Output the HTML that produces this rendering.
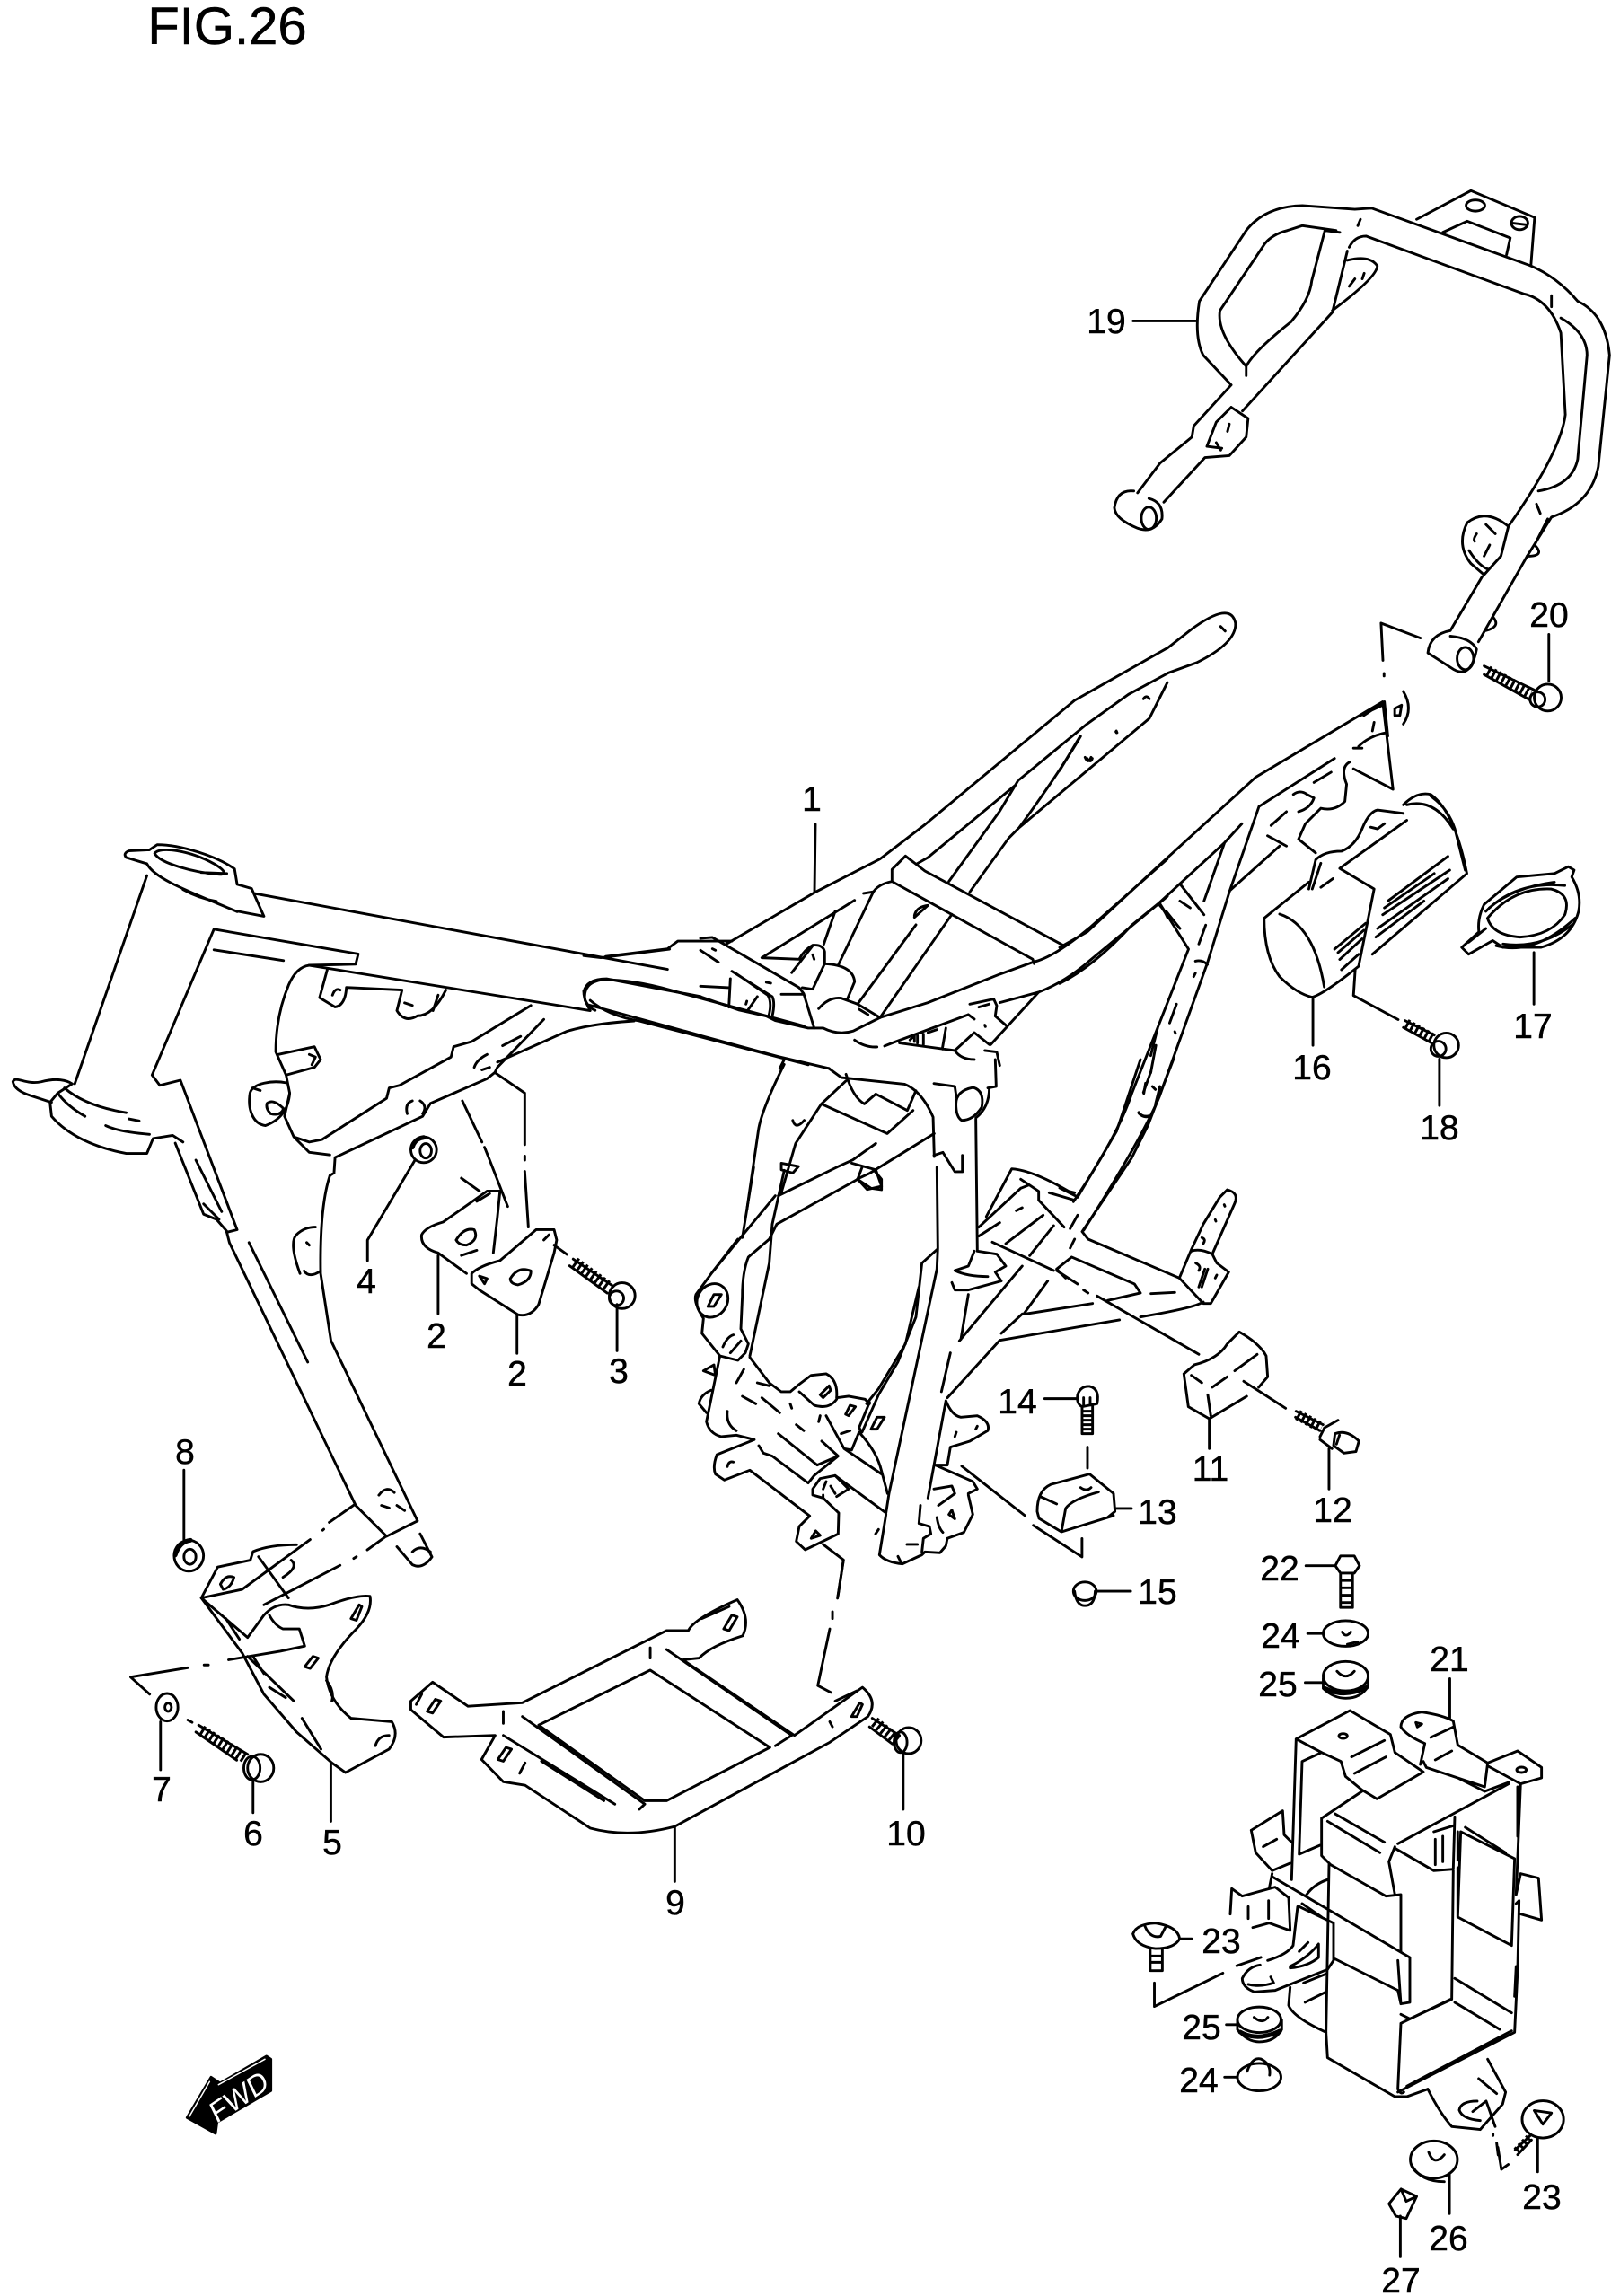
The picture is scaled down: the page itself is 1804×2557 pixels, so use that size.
<!DOCTYPE html>
<html><head><meta charset="utf-8"><style>
html,body{margin:0;padding:0;background:#fff}
svg{display:block}
path,ellipse,circle{vector-effect:non-scaling-stroke;fill:none;stroke:#000;stroke-width:2.9;stroke-linejoin:round;stroke-linecap:round}
.f{fill:#000}
.th{stroke-width:12;stroke-dasharray:3 3;stroke-linecap:butt}
.h{stroke-width:5}
text{font-family:"Liberation Sans",sans-serif;font-size:39px;fill:#000;text-anchor:middle;stroke:#000;stroke-width:.5}
</style></head><body>
<svg width="1804" height="2557" viewBox="0 0 1804 2557" xmlns="http://www.w3.org/2000/svg">
<rect width="1804" height="2557" fill="#fff"/>
<text x="253" y="49" style="font-size:58px">FIG.26</text>

<!-- Z1 front of frame -->
<g transform="translate(0,850) scale(.574)">
<path d="M290,168 L250,170 Q238,175 245,183 L285,195 M300,175 C310,160 370,170 415,195 C440,210 440,218 420,215 C380,212 310,195 300,175 M290,168 L305,158 C350,158 420,180 455,205 L460,235 L488,243 L512,297 L460,287 M285,195 C300,225 370,250 460,288 M355,245 Q385,262 420,268 M390,212 L440,214"/>
<path d="M285,218 L145,622 M25,618 C30,605 50,625 80,618 C110,610 130,615 140,622 L112,640 L97,658 L100,685 C130,720 180,745 245,757 L285,757 L297,728 L335,722 L355,735 M25,618 Q28,635 60,645 L100,658 M112,640 Q130,665 165,685 M125,630 Q165,665 245,678 M205,703 Q230,715 290,720 M250,690 L270,694"/>
<path d="M415,322 L695,370 L690,390 L600,392 M415,322 L295,605 L310,625 L350,615 L460,905 L440,910 M415,362 L550,383"/>
<path d="M495,253 L1175,378 L1295,400 M600,392 L1145,480 M1175,375 L1295,360 L1315,345 L1420,345 M1145,480 L1135,460 Q1130,425 1170,420 Q1230,420 1300,440 L1560,510 M1145,460 Q1180,490 1240,500 L1568,585"/>
<path d="M340,737 L395,875 L420,885 L440,908 M380,770 L430,870 M395,855 L425,885 M440,910 L445,930 L690,1440 L750,1500 M483,930 L597,1162 M640,800 Q620,860 622,990 L642,1120 L810,1470 L750,1500 M770,1520 L800,1555 Q820,1565 838,1540 L815,1495 M800,1530 Q815,1515 835,1530"/>
<path d="M735,1420 Q750,1400 765,1415 M740,1440 L755,1445 M770,1440 L785,1450"/>
<path d="M600,392 Q575,395 560,430 Q535,490 535,560 L555,605 L562,640 L552,685 L570,725 L600,735 L625,730 L750,650 L755,630 L775,625 L875,570 L880,550 L915,540 L1030,470 M648,795 L650,765 L820,685 L835,660 L945,612 L960,600 L965,590 L1055,497 M965,580 L1100,520 Q1150,505 1230,500 M640,800 L648,795 M570,725 L600,755 L640,760 M975,548 L1010,530 M790,680 Q785,660 800,655 M815,655 Q830,665 820,680 M920,590 Q925,575 945,565 M935,595 L950,590"/>
<path d="M635,400 L620,455 L650,473 Q670,470 672,435 L780,440 L770,480 Q785,505 810,490 Q840,490 865,440 M645,450 Q650,435 660,440 M785,465 L800,470 M850,450 L840,480"/>
<path d="M540,565 L610,550 L622,575 L610,590 L555,605 M600,565 L612,570 L605,585"/>
<path d="M485,640 C490,620 530,615 555,620 M562,640 C560,665 550,690 515,703 C490,700 480,670 485,640 M518,660 Q530,650 550,670 Q545,685 525,680 Q515,670 518,660 M490,630 L505,635"/>
<path d="M582,990 Q560,930 575,915 Q590,900 612,900 M622,985 Q600,1000 590,985 M595,930 L600,935"/>
<circle cx="822" cy="750" r="25"/><ellipse cx="826" cy="752" rx="11" ry="14"/><path class="h" d="M800,745 Q805,728 822,726"/>
<path d="M805,770 L713,925 L713,965"/>
<path d="M818,915 Q825,900 860,890 L945,830 L970,830 L965,880 L957,950 M818,915 Q815,940 850,950 L905,990 M885,925 Q900,900 920,905 Q930,925 905,935 Q890,935 885,925 M850,955 L850,1068 M895,955 L925,945 M925,850 L950,835"/>
<path d="M915,990 Q930,975 970,965 L1040,905 L1075,905 L1080,925 L1075,950 L1045,1050 Q1030,1075 1005,1070 L930,1022 L915,1010 Z M1003,1072 L1003,1145 M990,1000 Q1005,975 1030,985 Q1030,1005 1005,1012 Q990,1010 990,1000 M930,995 L945,1000 L940,1010 Z M1055,925 L1065,915"/>
<path class="th" d="M1115,968 L1180,1015"/>
<path d="M1112,962 L1190,1015 M1105,975 L1178,1028"/>
<circle cx="1207" cy="1033" r="25"/><circle cx="1196" cy="1038" r="14"/>
<path d="M1197,1050 V1140"/>
<path d="M897,655 L935,735 M940,745 L950,770 L985,860 M960,600 L1018,640 V740 M1018,762 V770 M1018,792 L1025,900 M895,805 L930,830 M1075,935 L1100,953"/>
</g>

<!-- Z2 remaining centre -->
<g transform="translate(650,650) scale(.6378,.7334)">
<path d="M1019,98 L1060,70 Q1130,25 1138,60 Q1140,90 1070,120 L1019,136 M1112,65 L1120,72"/>
<path d="M0,565 L30,568 L150,555 M0,620 Q5,600 40,600 L204,627 M10,640 L204,686 M428,736 L450,750 L560,760 Q590,770 610,810 L612,870 M0,618 Q0,640 20,648"/>
<path d="M350,730 Q310,800 305,830 L285,950 M458,755 L415,790 L370,850 L345,925 M415,790 L530,835 L575,800 M458,745 Q470,780 490,790 L510,775 L565,800 L580,770 M365,815 Q370,830 385,815 M345,880 L375,885 L365,895 L345,890 Z"/>
<path d="M442,886 L470,875 L510,850 M478,904 L500,895 L612,835 M468,880 L510,890 L520,915 L495,920 L478,904"/>
<path d="M650,790 Q650,770 680,765 Q700,770 695,795 Q680,815 660,815 Q650,810 650,790"/>
<path d="M660,1340 L770,1415 M785,1430 L870,1478 L870,1450"/>
<ellipse cx="875" cy="1530" rx="20" ry="14"/><path d="M857,1530 Q860,1552 875,1552 Q892,1552 893,1530 M895,1530 H955"/>
</g>

<!-- A upper centre -->
<g transform="translate(780,670) scale(.3333)">
<path d="M85,1145 L385,970 L600,860 L750,745 L1250,330 L1560,155"/>
<path d="M725,875 L760,855 L1050,615 M1065,595 L1290,410 L1430,310 L1560,240 M1270,450 Q1200,570 1065,755 L1500,390 L1540,310 L1560,270 M1065,755 L1030,790 L900,970 M1060,600 L1000,700 L830,935 M840,1045 L600,1390 M720,1080 L525,1345 M1480,325 Q1490,310 1500,325 M1285,520 Q1295,545 1305,520 M1388,435 L1390,438"/>
<path d="M640,935 L640,895 L685,850 L750,900 L1215,1150 M640,935 L1110,1195 L1115,1210 M640,935 Q590,945 575,975 L460,1215 M545,975 L575,970 M515,998 L205,1190 L330,1195 Q345,1165 375,1148 Q410,1145 415,1170 L415,1210 L375,1295 L340,1290 M450,1035 L412,1145 M375,1150 L305,1240 M415,1210 Q510,1215 515,1270 L490,1330 M395,1360 Q430,1320 470,1325 L525,1345 L600,1390 M530,1362 L560,1380 M715,1050 Q720,1020 760,1015 L715,1055 M375,1180 L380,1195"/>
<path d="M0,1125 L40,1122 L330,1290 L345,1310 L380,1425 M105,1235 L240,1320 Q250,1340 240,1385 M115,1240 L225,1315 Q240,1340 228,1385 M270,1312 L345,1312 M100,1260 L95,1355 M0,1285 L95,1290 M190,1320 L155,1370 M0,1165 L60,1205 M40,1160 L50,1165 M220,1272 L235,1275 M155,1335 L152,1345"/>
<path d="M0,1320 L130,1365 L220,1385 L250,1400 L360,1425 L410,1425 Q460,1450 510,1435 L600,1390 L760,1340 L1000,1245 L1110,1205 Q1180,1190 1300,1090 L1560,860 M1130,1305 Q1220,1270 1300,1200 L1530,1010 L1560,985 M1530,1010 Q1550,1030 1560,1055"/>
<path d="M1000,1340 L1130,1305 L970,1480 M900,1345 L980,1328 L990,1350 L985,1385 L1020,1415 M895,1380 L915,1395 M895,1380 L640,1475 L615,1485 M515,1465 Q550,1490 590,1488 M665,1475 L850,1500 L915,1440 L965,1480 M850,1500 Q870,1530 915,1530 M820,1425 L808,1495 M950,1500 L990,1505 L1000,1550 M930,1355 L965,1345 M950,1415 L952,1420 M700,1465 L715,1450 V1470 M725,1450 V1475 M745,1445 V1480 M760,1440 L790,1430"/>
<path d="M0,1450 L260,1520 L430,1560 M280,1530 L265,1560"/>
</g>

<!-- B rear rail, 16,17,18 -->
<g transform="translate(1180,770) scale(.3827)">
<path d="M0,745 L80,700 L285,510 L570,250 L940,30 L970,285 L855,225 M885,70 L945,30 L955,130 M875,70 L940,40 M0,850 Q100,800 210,680 L290,615 L480,440 L530,385 M290,615 L375,750 L210,1170 Q170,1290 50,1470 L0,1445 M50,1470 L40,1485 M350,560 L420,650 M480,440 L420,610 M580,335 L495,580 L430,790 L290,1180 Q240,1300 70,1568 M580,335 L800,195 M495,580 L640,450 M605,420 L660,450 M615,390 L660,350 M740,265 L790,235 M870,160 Q900,130 950,120 M915,90 L910,115 M855,165 L880,165"/>
<path d="M680,300 Q700,285 720,300 L740,310 Q730,340 695,350 M845,205 Q815,220 835,270 L830,320 Q800,350 760,340 L715,385 L695,430 L745,470 M425,680 L405,735 M395,785 Q415,780 430,795 M390,830 L395,820 M340,910 L320,965 M285,980 L265,1060 M280,1030 L265,1110 M250,1140 L245,1170 M230,1225 Q240,1240 260,1235 M335,990 L337,995 M350,610 L380,630 M310,640 L350,690 M80,195 Q90,210 95,195 M165,115 L167,120 M60,130 L0,230"/>
<path d="M1000,0 Q1030,50 1000,95 M975,50 L995,40 L990,70 L975,70 Z"/>
<path d="M595,660 L725,555 M595,660 Q595,770 640,830 Q690,880 735,890 Q770,880 870,800 L915,575 L815,515 L1010,375 M745,490 Q770,465 820,465 Q860,450 880,400 Q900,350 925,345 L1000,355 M725,575 L745,490 M735,575 L760,500 M760,570 L795,545 M640,648 Q740,680 770,860 M905,395 L925,400 L945,385"/>
<path d="M1000,330 Q1040,290 1080,300 Q1150,350 1185,530 L910,765 M1010,330 Q1090,310 1145,400 M1080,305 Q1130,340 1150,400 L1180,520"/>
<path d="M955,610 L1130,480 M940,650 L1135,520 M925,690 L1130,545 M945,630 L1090,530 M920,715 L1060,610 M800,750 L890,675 M815,780 L880,720 M820,810 L870,765 M810,760 L885,695"/>
<path d="M860,810 L855,885 L985,955 M737,890 V1030 M1105,1070 V1205"/>
<path class="th" d="M1008,968 L1085,1010"/>
<path d="M1005,958 L1090,1000 M1000,978 L1080,1022"/>
<circle cx="1125" cy="1030" r="36"/><circle cx="1102" cy="1040" r="22"/>
<path d="M1235,620 L1330,540 L1440,530 L1480,510 L1497,520 L1490,540 Q1520,590 1510,640 Q1490,720 1400,745 L1290,745 L1260,725 L1190,765 L1170,745 L1220,700 Q1215,660 1235,620"/>
<path d="M1245,660 Q1320,570 1430,575 Q1490,590 1470,650 Q1430,710 1340,715 Q1260,710 1245,660 M1240,640 Q1330,550 1470,565 M1270,740 Q1380,770 1500,660 M1240,690 L1190,730 M1250,630 Q1320,570 1440,555 M1290,735 Q1400,750 1490,680 M1380,760 V910"/>
</g>

<!-- C lower right -->
<g transform="translate(1030,1180) scale(.3333)">
<path d="M510,460 L590,325 L640,240 L720,0 M830,0 L745,220 L690,330 L525,575 L545,600 L850,730 M755,40 L730,110 M760,90 L770,100 M715,180 Q730,195 750,190 M785,90 L770,150"/>
<path d="M205,525 L290,365 Q360,370 480,440 L500,445 M415,445 L500,470 M180,560 L320,430 M180,590 L250,545 M320,400 L380,440 L380,470 L465,560 M325,495 L305,505 M320,430 L345,420 M270,615 L395,520 M350,655 L430,555 M485,565 L510,520 M485,630 L500,600"/>
<path d="M490,660 L440,700 L470,730 M490,660 L700,750 L720,780 L610,805 M755,782 L835,778 M850,730 L930,815 L955,815 L1015,710 L975,680 L960,650 L1035,480 Q1050,445 1010,435 L985,460 L930,550 L890,635 L850,730 M890,640 Q920,630 960,650 M930,810 Q900,830 720,860 M1000,485 L1002,490 M970,535 L972,540 M925,595 Q940,600 930,615 M905,680 Q925,690 915,705 M925,760 L945,700 M915,760 L935,700 M975,720 L970,730"/>
<path d="M225,610 L430,705 M440,705 L510,750 M530,770 L545,780 M575,790 L915,985 M335,850 L560,815 M330,850 L410,740 M255,915 L325,850 M115,940 L325,690 M120,935 L145,785 M250,938 L650,870 M75,1130 L250,938 M55,1110 L85,980"/>
<path d="M100,705 L145,690 L165,640 M100,705 Q140,725 210,725 M175,640 L240,650 L270,690 L235,710 L255,740 L145,770 L100,770 L90,745 M170,200 L175,640 M30,320 L60,310 L100,375 L125,375 V320 M30,80 L100,90 L105,125 M235,0 L238,90 L210,95 M215,95 Q215,160 170,195"/>
<path d="M865,1050 L900,1020 Q980,1000 1010,950 L1050,910 Q1120,950 1140,990 L1145,1060 L1115,1095 M865,1050 L880,1160 L950,1200 L1075,1125 M890,1055 L925,1080 M960,1095 L1010,1060 M1035,1040 L1110,985 M945,1120 L955,1190 M950,1200 V1300 M1065,1075 L1205,1165"/>
<path class="th" d="M1245,1187 L1325,1230"/>
<path d="M1240,1175 L1330,1220 M1238,1195 L1320,1240 M1320,1260 L1335,1230 L1380,1205 M1320,1270 L1360,1300 M1370,1250 Q1410,1235 1450,1275 L1440,1310 L1400,1315 L1365,1290 Z M1385,1255 L1375,1285 M1350,1300 V1435"/>
<path d="M510,1120 Q520,1090 550,1092 Q585,1100 575,1150 L525,1160 Q505,1150 510,1120 M525,1160 V1250 H560 V1155 M525,1175 H560 M525,1190 H560 M525,1205 H560 M525,1220 H560 M525,1235 H560 M530,1130 V1155 M552,1130 V1155 M400,1133 H505 M543,1295 V1365"/>
<path d="M375,1510 Q375,1440 420,1420 L550,1385 L630,1450 L635,1510 L610,1530 L630,1524 L456,1578 L381,1533 L375,1510 M385,1460 L440,1485 M520,1430 Q540,1445 555,1430 M580,1445 Q490,1470 470,1500 L456,1578 M635,1500 H690"/>
</g>

<!-- Z7 lower centre -->
<g transform="translate(760,1300) scale(.3333)">
<path d="M238,0 L200,235 M340,10 L300,190 L290,320 L225,630"/>
<path d="M310,95 L190,240 L100,350 L45,425 Q35,450 70,505 L65,555 L125,630 L80,850 Q90,890 130,900 L180,895 L240,910 L115,960 Q100,1000 110,1025 L140,1045 L225,1012 L425,1165 L390,1200 L380,1250 L410,1278 L520,1225 L522,1155 L470,1105 L435,1095 L435,1075 L460,1040 L510,1030 L680,1155 L690,1090 L850,340 L853,270 L850,0"/>
<path d="M585,40 L315,190 L290,240 L220,300 Q200,350 200,430 L195,540 L220,590 L210,620 L185,645 L125,630 M320,95 L515,0 M585,40 L600,0 M585,40 L630,70 L665,75 L665,40 L640,10"/>
<ellipse cx="100" cy="445" rx="50" ry="58" transform="rotate(30 100 445)"/>
<path d="M85,465 L105,425 L130,425 L105,465 Z M70,680 L105,660 L110,695 Z M95,745 Q60,760 55,790 L80,820 M135,600 Q150,565 170,560 M160,620 L195,580 M100,350 L185,240"/>
<path d="M225,635 L290,720 L330,750 L360,750 L390,725 L430,695 L480,690 Q520,710 515,770 L555,765 L610,775 L625,790 M390,750 L440,795 Q490,810 515,775 M460,760 L490,730 L495,745 L470,770 Z M545,825 L560,795 L578,800 L555,830 Z"/>
<path d="M625,785 L590,870 L600,885 L655,760 L720,650 L780,500 L800,320 L850,275 M615,790 L655,740 L745,590 L790,400 M590,885 L565,945 L540,940 L480,830 M590,885 Q650,950 665,1015 L685,1090 M540,940 L665,1025"/>
<path d="M320,890 L450,995 L520,965 L465,915 M255,930 L270,955 L300,965 L420,1055 L440,1030 L520,965 M250,720 L290,730 M180,720 L205,675 M200,765 L245,790 M265,770 L325,820 M360,790 L365,805 M380,860 L405,880 M460,830 L455,850 M530,890 L560,880 M150,815 Q145,860 180,880 M630,875 L650,835 L675,835 L650,875 Z"/>
<path d="M150,1000 Q155,980 170,985 M445,1215 L430,1240 L460,1230 Z M480,1050 L470,1075 M495,1065 L510,1090 M515,1100 L555,1075 L510,1030 M470,1105 L470,1095"/>
<path d="M680,1160 L658,1295 Q680,1320 735,1325 L800,1295 L810,1285 L860,1288 L880,1265 L885,1240 L940,1220 L970,1160 L955,1095 M645,1225 L655,1210 M750,1260 L785,1260 M795,1130 L790,1190 L825,1200 L830,1225 L805,1240 L800,1285 M840,1075 L900,1065 L910,1090 L855,1130 M850,1170 Q855,1205 870,1220 M900,1145 L910,1175 L890,1160 Z M720,1300 L730,1320"/>
<path d="M880,780 L820,1105 M880,780 Q900,830 930,835 L985,830 Q1030,850 1020,880 L960,915 L895,935 L885,995 L845,995 L970,1050 L985,1075 L955,1090 M915,885 L910,900 M985,865 L980,875"/>
<path d="M470,1260 L538,1312 L518,1440"/>
</g>

<!-- Z3 part 19 -->
<g transform="translate(1150,180) scale(.4171,.4145)">
<path d="M570,185 Q620,120 720,118 L860,128 L905,125 L1330,280 Q1400,310 1455,375 Q1530,410 1540,520 L1510,820 Q1490,920 1385,955 L1320,1060 L1190,1290"/>
<path d="M845,230 Q860,200 890,200 L1310,355 Q1380,370 1410,460 L1422,680 Q1410,780 1270,980"/>
<path d="M570,185 L445,375 Q430,470 455,520 L530,600 L430,710 L425,740 L340,810 L280,890"/>
<path d="M680,185 Q640,195 620,220 L500,400 Q490,460 570,550 Q590,510 690,430 Q740,370 745,320 L780,185 L820,190 M680,185 L720,172 L810,185 M570,550 L570,575 M875,155 L868,172"/>
<path d="M840,240 L800,405 L560,670 M840,265 Q900,250 920,280 Q920,310 800,400 M860,315 L845,335 M885,300 L880,315"/>
<path d="M530,660 L575,690 L570,740 L525,790 L460,795 L350,915 M530,660 L490,700 L465,765 L505,770 M525,705 L520,725 M490,755 L502,775"/>
<path d="M270,885 Q225,880 218,930 Q220,960 280,985 Q320,1000 345,960 Q350,915 310,905"/>
<ellipse cx="310" cy="958" rx="20" ry="30"/>
<path d="M1385,360 V390 M1410,420 Q1480,460 1480,520 L1455,800 Q1440,870 1350,885 M1345,920 L1355,945"/>
<path d="M1270,980 Q1210,930 1160,970 Q1130,1030 1170,1080 L1205,1110 L1250,1060 Z M1185,1000 Q1175,1015 1180,1020 M1210,975 L1235,1000 M1220,1030 L1205,1060 M1165,1045 Q1190,1085 1215,1095"/>
<path d="M1200,1115 L1115,1260 M1115,1260 Q1060,1270 1055,1320 L1125,1365 Q1170,1390 1185,1310 Q1170,1280 1115,1275"/>
<ellipse cx="1155" cy="1335" rx="22" ry="30"/>
<path d="M1025,155 L1170,78 L1340,150 L1330,280"/>
<ellipse cx="1182" cy="118" rx="25" ry="15"/><ellipse cx="1300" cy="165" rx="22" ry="18"/>
<path d="M1095,190 L1160,160 L1275,205 L1265,250 M1280,165 L1320,170"/>
<path d="M1375,960 L1340,1030 Q1370,1060 1320,1060 M1230,1225 Q1250,1250 1210,1260"/>
<path class="th" d="M1215,1368 L1330,1430"/>
<path d="M1205,1355 L1340,1420 M1205,1378 L1325,1445"/>
<circle cx="1375" cy="1440" r="36"/><circle cx="1348" cy="1445" r="20"/>
<path d="M1378,1270 V1395 M268,428 H435"/>
<path d="M930,1240 L935,1340 M938,1375 V1382 M930,1240 L1035,1280"/>
</g>

<!-- Z4 parts 5-10 -->
<g transform="translate(100,1550) scale(.6059,.3827)">
<path d="M485,330 L440,380 M430,400 L428,403 M405,430 L280,575 L205,600 M545,420 L510,460 M490,480 L485,485 M460,505 L320,620"/>
<path d="M205,600 L235,510 L295,490 L300,465 Q330,445 380,445 M310,480 L365,600"/>
<path d="M205,600 L290,715 L320,650 Q340,615 365,620 Q400,640 440,620 Q490,590 515,595 Q520,640 490,690 Q440,770 435,830 Q440,900 480,950 L555,960 Q570,1000 550,1040 L470,1108 L445,1080 L380,990 L320,880 L280,760 L205,600"/>
<path d="M330,650 Q340,680 355,690 L385,690 L395,740 L350,755 L255,780 M290,770 L375,900 M330,860 L360,890 M390,950 L425,1040 M240,560 Q250,530 265,540 Q260,570 245,575 Z M480,660 L495,620 L500,625 L490,665 Z M395,800 L410,770 L420,775 L405,805 Z M525,1030 Q530,1000 550,1000 M435,840 Q450,870 445,900 M370,490 Q385,510 355,540 M250,660 L275,720 M300,770 L320,820"/>
<path d="M210,795 H218 M180,803 L75,830 L110,880 M180,955 L188,962"/>
<ellipse cx="142" cy="918" rx="20" ry="40"/><ellipse cx="144" cy="918" rx="6" ry="12"/>
<path d="M130,960 V1100"/>
<path class="th" d="M205,985 L285,1065"/>
<path d="M200,970 L290,1055 M195,990 L270,1072"/>
<ellipse cx="314" cy="1095" rx="24" ry="40"/><ellipse cx="298" cy="1095" rx="15" ry="34"/>
<path d="M300,1130 V1225 M443,1080 V1250"/>
<ellipse cx="182" cy="477" rx="27" ry="45"/><ellipse cx="184" cy="480" rx="11" ry="22"/><path class="h" d="M157,475 Q165,435 185,432"/>
<path d="M173,228 V430"/>
<path d="M590,900 L630,845 L695,915 L795,905 L1060,695 L1100,695 Q1110,660 1190,605 Q1215,660 1200,710 Q1140,740 1120,775 L1090,780 L1295,1000 Q1340,950 1420,860 Q1450,900 1430,945 L1360,1020 L1075,1265 Q990,1300 920,1270 L800,1145 L760,1135 L720,1070 L745,1000 L650,1005 L590,925 Z"/>
<path d="M1030,810 L825,970 L1020,1190 L1060,1190 L1250,1035 Z M795,945 L1020,1200 L1010,1215 M1060,750 L1290,1000 L1260,1030 M760,1000 L965,1200 M830,1075 L945,1190 M1030,745 V775 M760,930 V965"/>
<path d="M1165,690 L1180,650 L1190,655 L1175,695 Z M620,930 L635,895 L645,900 L630,935 Z M750,1070 L765,1035 L775,1040 L760,1075 Z M1400,945 L1415,905 L1420,910 L1410,945 Z M1125,660 L1175,625 M1370,900 L1410,870 M600,910 L610,880 M790,1110 L800,1080 M1360,960 L1365,975"/>
<path class="th" d="M1442,960 L1485,1015"/>
<path d="M1438,950 L1488,1000 M1433,975 L1475,1025"/>
<ellipse cx="1505" cy="1015" rx="23" ry="38"/><ellipse cx="1490" cy="1020" rx="12" ry="30"/>
<path d="M1495,1050 V1215 M1075,1265 V1425"/>
<path d="M1385,490 L1375,595 M1365,640 V660 M1360,690 L1338,855 L1362,875"/>
</g>

<!-- D box -->
<g transform="translate(1340,1880) scale(.3333)">
<path d="M310,170 L490,75 L625,155 L640,215 L735,280 L580,370 L530,340 L475,295 L460,245 L395,215 L330,245 L320,555 L390,525 M310,170 L395,215 M310,170 L295,640 M495,230 L605,175 M505,285 L610,230"/>
<path d="M725,255 L740,185 Q680,160 660,130 Q660,90 730,80 Q800,90 835,110 L850,190 L950,250 L940,330 L850,300 L745,265 L735,245 M760,165 L835,130 M775,240 L830,210 M950,250 L1050,210 L1130,265 L1130,300 L1060,320 L950,260 M850,300 L940,345 L1020,315"/>
<ellipse cx="1063" cy="273" rx="16" ry="9"/><ellipse cx="467" cy="160" rx="14" ry="8"/>
<path d="M710,115 L730,120 L715,130 Z"/>
<path d="M395,435 L530,345 M395,435 V560 L425,590 L610,695 L660,690 M415,445 L590,550 M440,420 L605,515 M650,520 L1020,320 M640,530 L620,580 L640,690 M640,535 L770,610 L835,605 L840,430 M660,690 L660,880"/>
<path d="M860,480 L1040,570 L1030,860 L850,765 Z M875,465 L1010,550 M850,480 V575 L855,575 M835,610 L830,1040 L690,1105 L660,1090 M850,600 V765 M840,970 L1030,1085 M840,1050 L990,1140 M775,505 V590 M800,495 V580 M770,480 L835,460"/>
<path d="M1060,320 L1045,690 M1050,330 L1050,495 M1045,690 L1060,620 L1120,635 L1130,775 L1060,755 M1045,720 L1055,710 L1050,940 L1040,1150 L650,1350 M660,1120 L825,1040 M660,1120 L650,1340 Q660,1360 670,1350 M680,1330 L1030,1145 M1045,930 L1040,1030"/>
<path d="M230,630 L690,900 L690,1050 L660,1055 L650,1010 L440,905 M650,910 L660,1055 M230,620 L220,670 M420,590 L410,1150 L415,1235 L640,1365 L680,1365 L750,1340"/>
<path d="M160,475 L265,410 L270,490 L295,515 M160,475 L175,550 L230,610 L290,585 M200,530 L245,505 M90,755 L95,670 L130,695 L240,665 L285,700 L290,810 L220,785 L165,800 M150,730 V770 M218,710 V770"/>
<path d="M320,730 L435,785 V910 L415,940 L240,1010 L170,1015 Q130,1000 130,970 Q150,930 190,925 M215,910 Q280,890 300,860 L315,730 M290,930 Q350,900 385,855 L385,900 Q350,930 290,935 M330,720 L395,765 M150,990 Q190,1000 235,985 L225,965 M335,985 L410,955 M340,1050 L410,1015 M290,1000 L285,1060 Q300,1100 410,1150 M345,690 Q370,655 415,640 M320,880 L350,850"/>
<path d="M750,1340 Q790,1420 830,1465 L925,1475 L1000,1390 L1010,1350 L950,1240 M920,1305 L980,1355 M900,1415 L945,1380 L975,1465 M968,1490 V1495 M980,1520 L985,1560 M915,1380 Q860,1380 855,1410 Q865,1440 925,1445"/>
</g>

<!-- Z5 small parts -->
<g transform="translate(1200,1700) scale(.3852,.5466)">
<path d="M160,830 Q170,810 225,808 Q290,815 295,840 Q280,860 225,860 Q170,855 160,830 M195,815 Q210,840 240,835 L255,815 M295,840 H330"/>
<path d="M210,860 V905 H245 V860 M210,875 H245 M210,888 H245"/>
<path d="M222,930 V978 L420,910 M460,895 L530,878"/>
<ellipse cx="525" cy="1005" rx="63" ry="26"/><path d="M462,1005 V1025 Q490,1050 525,1050 Q570,1050 590,1025 V1005 M430,1015 H460 M510,1000 Q535,1015 550,1000"/><path class="h" d="M470,1030 Q520,1050 585,1028"/>
<ellipse cx="525" cy="1122" rx="63" ry="28"/><path d="M490,1110 Q505,1080 530,1085 Q560,1095 555,1118 M425,1122 H460"/>
<path d="M745,80 L760,60 L800,60 L815,80 L800,95 L760,95 Z M660,80 H745 M760,95 V165 H795 V95 M760,110 H795 M760,125 H795 M760,140 H795 M760,155 H795"/>
<ellipse cx="775" cy="218" rx="65" ry="26"/><path d="M765,215 Q775,228 790,215 M665,218 H710 M780,240 L810,235"/>
<ellipse cx="775" cy="305" rx="65" ry="30"/><path d="M710,310 V330 Q740,350 775,350 Q820,350 840,325 V305 M658,318 H710 M750,295 Q775,315 800,295"/><path class="h" d="M715,330 Q770,350 835,328"/>
<path d="M1076,310 V390"/>
<path d="M1215,1265 L1225,1310 L1245,1300"/>
<ellipse cx="1345" cy="1208" rx="60" ry="38"/><path d="M1320,1190 L1370,1195 L1345,1218 Z M1265,1270 L1310,1240 M1272,1280 L1312,1250 M1330,1245 V1315"/><path class="th" style="stroke-width:8" d="M1268,1272 L1305,1245"/>
<ellipse cx="1030" cy="1290" rx="68" ry="38"/><path d="M965,1300 Q990,1335 1060,1335 M1015,1275 Q1030,1305 1060,1280 M1075,1320 V1400"/>
<path d="M900,1380 L935,1350 L980,1365 L950,1410 L920,1405 Z M935,1350 L950,1375 L980,1365 M933,1405 V1488"/>
</g>

<!-- FWD arrow -->
<g transform="translate(190,2270) scale(.3333)">
<path class="f" d="M55,265 L135,130 L165,150 L320,60 L335,70 L335,175 L155,280 L150,318 Z"/>
<path style="stroke:#fff;stroke-width:1.5" d="M62,262 L130,145 M160,155 L315,70"/>
</g>
<text transform="translate(271,2345) rotate(-34) skewX(-8)" style="font-size:32px;fill:#fff;stroke:none">FWD</text>

<!-- labels -->
<text x="904" y="903">1</text>
<path d="M908,918 L907,994"/>
<text x="486" y="1501">2</text>
<text x="576" y="1543">2</text>
<text x="689" y="1540">3</text>
<text x="408" y="1440">4</text>
<text x="370" y="2065">5</text>
<text x="282" y="2055">6</text>
<text x="180" y="2006">7</text>
<text x="206" y="1630">8</text>
<text x="752" y="2132">9</text>
<text x="1009" y="2055">10</text>
<text x="1348" y="1649">11</text>
<text x="1484" y="1695">12</text>
<text x="1289" y="1697">13</text>
<text x="1133" y="1574">14</text>
<text x="1289" y="1786">15</text>
<text x="1461" y="1202">16</text>
<text x="1707" y="1156">17</text>
<text x="1603" y="1269">18</text>
<text x="1232" y="371">19</text>
<text x="1725" y="698">20</text>
<text x="1614" y="1861">21</text>
<text x="1425" y="1760">22</text>
<text x="1360" y="2175">23</text>
<text x="1717" y="2460">23</text>
<text x="1426" y="1835">24</text>
<text x="1335" y="2330">24</text>
<text x="1423" y="1889">25</text>
<text x="1338" y="2271">25</text>
<text x="1613" y="2506">26</text>
<text x="1560" y="2553">27</text>
</svg>
</body></html>
